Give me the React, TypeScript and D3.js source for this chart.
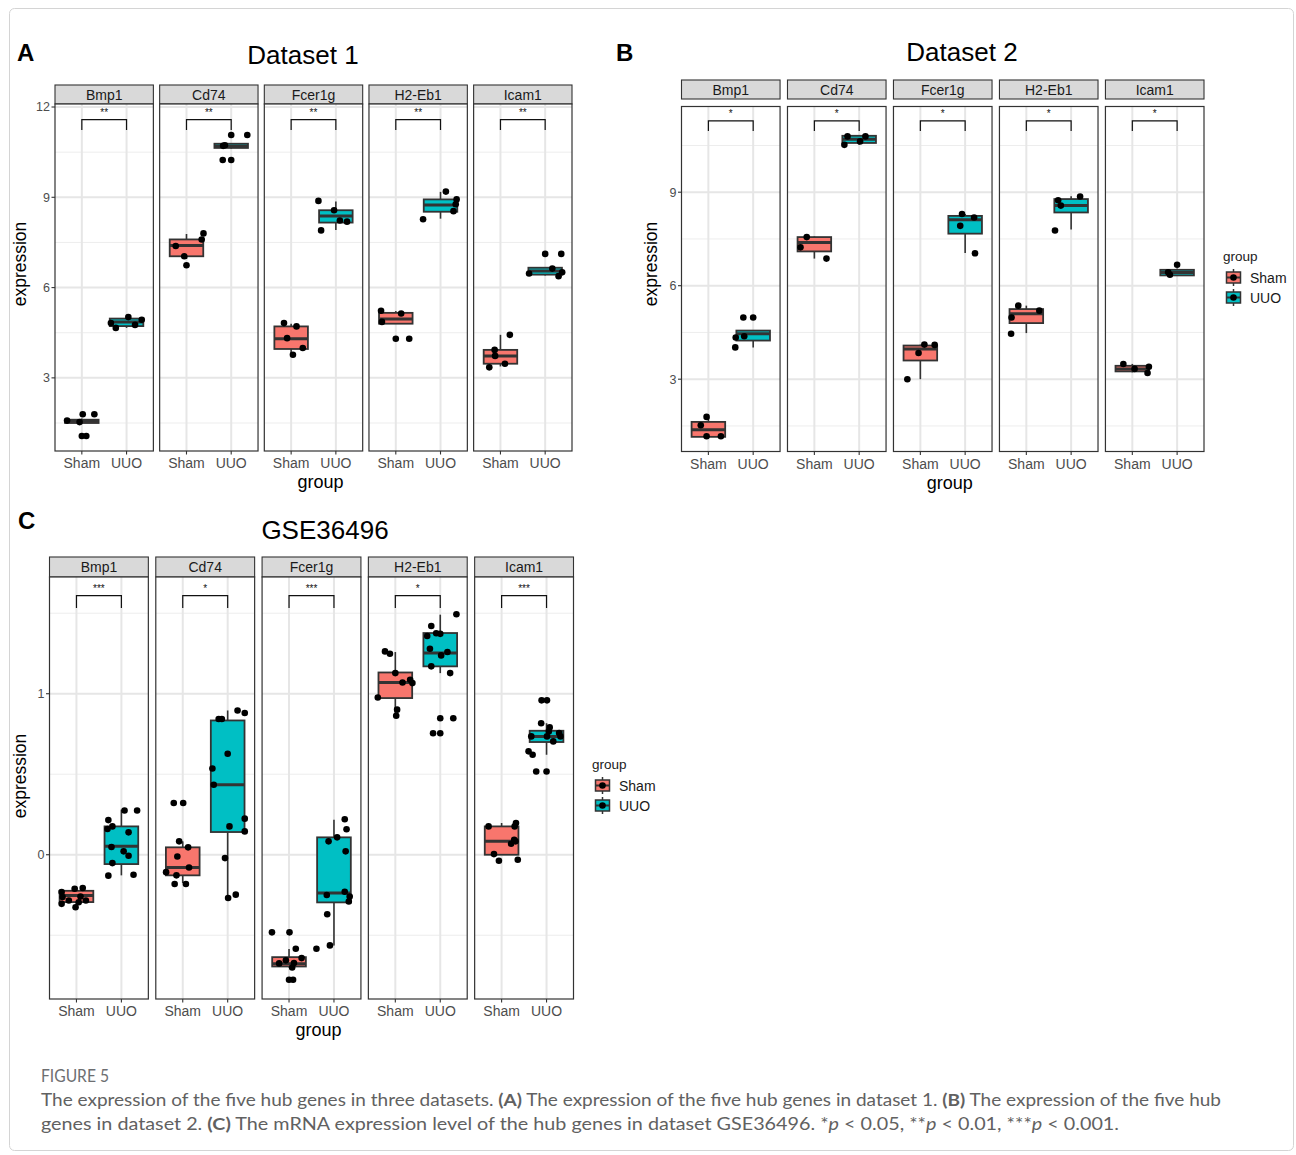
import React, { useEffect, useRef } from 'react';
import * as d3 from 'd3';

const genes = ['Bmp1', 'Cd74', 'Fcer1g', 'H2-Eb1', 'Icam1'];
const groups = ['Sham', 'UUO'];
const groupColors = ['#F8766D', '#00BFC4'];

// box stats per gene: [lower whisker, q1, median, q3, upper whisker]
const boxA_Sham = [[1.48, 1.50, 1.56, 1.61, 1.65], [6.95, 7.04, 7.40, 7.60, 7.78], [3.77, 3.96, 4.30, 4.71, 4.80], [4.80, 4.80, 4.96, 5.16, 5.22], [3.38, 3.47, 3.73, 3.93, 4.43]];
const boxA_UUO = [[4.66, 4.72, 4.86, 4.97, 5.02], [10.62, 10.64, 10.70, 10.78, 10.80], [7.91, 8.16, 8.38, 8.57, 8.86], [8.29, 8.52, 8.74, 8.93, 9.18], [6.40, 6.43, 6.55, 6.66, 6.68]];
// jittered points per gene: [jitter (x units), expression]
const ptsA_Sham = [
  [[-0.33, 1.58], [-0.05, 1.53], [0.02, 1.79], [0.28, 1.79], [0.0, 1.07], [0.1, 1.07]],
  [[-0.24, 7.38], [-0.05, 7.04], [0.0, 6.74], [0.34, 7.60], [0.38, 7.80]],
  [[-0.16, 4.82], [0.12, 4.71], [-0.09, 4.32], [0.26, 3.99], [0.04, 3.77]],
  [[-0.33, 5.23], [-0.31, 4.86], [0.12, 5.14], [0.0, 4.30], [0.3, 4.30]],
  [[0.21, 4.43], [-0.13, 3.93], [-0.12, 3.73], [0.1, 3.47], [-0.25, 3.35]],
];
const ptsA_UUO = [
  [[-0.35, 4.82], [-0.24, 4.66], [0.04, 5.02], [0.19, 4.76], [0.34, 4.93]],
  [[-0.18, 10.71], [-0.14, 10.73], [0.0, 11.07], [0.36, 11.07], [-0.19, 10.24], [0.0, 10.24]],
  [[-0.39, 8.88], [-0.04, 8.57], [0.09, 8.23], [0.25, 8.19], [-0.33, 7.90]],
  [[0.12, 9.19], [0.36, 8.93], [0.34, 8.77], [0.29, 8.54], [-0.39, 8.27]],
  [[0.0, 7.12], [0.36, 7.12], [0.16, 6.63], [-0.36, 6.47], [0.3, 6.38], [0.38, 6.51]],
];
const sigA = ['**', '**', '**', '**', '**'];
const bracketA = [11.58, 11.24];
const yDomainA = [0.57, 12.1];
const ticksA = [3, 6, 9, 12];
const minorA = [1.5, 4.5, 7.5, 10.5];

const boxB_Sham = [[1.15, 1.15, 1.38, 1.63, 1.79], [6.87, 7.10, 7.39, 7.56, 7.58], [3.0, 3.60, 3.97, 4.08, 4.11], [4.48, 4.80, 5.10, 5.25, 5.36], [3.22, 3.25, 3.33, 3.43, 3.49]];
const boxB_UUO = [[4.02, 4.24, 4.46, 4.56, 4.58], [10.52, 10.58, 10.70, 10.81, 10.82], [7.05, 7.67, 8.12, 8.24, 8.30], [7.80, 8.35, 8.57, 8.78, 8.87], [6.33, 6.33, 6.42, 6.51, 6.55]];
const ptsB_Sham = [
  [[-0.04, 1.79], [-0.17, 1.52], [-0.04, 1.17], [0.28, 1.17]],
  [[-0.17, 7.56], [-0.31, 7.23], [0.27, 6.87]],
  [[0.09, 4.11], [0.32, 4.10], [-0.04, 3.84], [-0.29, 3.0]],
  [[-0.18, 5.36], [-0.33, 4.98], [0.29, 5.20], [-0.34, 4.46]],
  [[-0.2, 3.49], [0.05, 3.33], [0.37, 3.40], [0.34, 3.20]],
];
const ptsB_UUO = [
  [[-0.22, 4.98], [0.0, 4.98], [-0.39, 4.34], [-0.2, 4.38], [-0.4, 4.02]],
  [[-0.26, 10.79], [-0.33, 10.52], [0.02, 10.63], [0.14, 10.79]],
  [[-0.07, 8.30], [0.2, 8.19], [-0.11, 7.92], [0.22, 7.04]],
  [[-0.29, 8.74], [-0.23, 8.57], [0.2, 8.86], [-0.36, 7.77]],
  [[0.0, 6.67], [-0.16, 6.35], [-0.2, 6.43]],
];
const sigB = ['*', '*', '*', '*', '*'];
const bracketB = [11.29, 10.96];
const yDomainB = [0.68, 11.75];
const ticksB = [3, 6, 9];
const minorB = [1.5, 4.5, 7.5, 10.5];

const boxC_Sham = [[-0.32, -0.294, -0.253, -0.224, -0.197], [-0.176, -0.128, -0.079, 0.046, 0.083], [-0.70, -0.694, -0.677, -0.636, -0.586], [0.859, 0.973, 1.07, 1.132, 1.259], [0.0, 0.0, 0.083, 0.176, 0.197]];
const boxC_UUO = [[-0.128, -0.058, 0.052, 0.176, 0.28], [-0.269, 0.141, 0.435, 0.834, 0.896], [-0.563, -0.296, -0.238, 0.108, 0.217], [1.128, 1.17, 1.253, 1.377, 1.491], [0.621, 0.70, 0.735, 0.770, 0.817]];
const ptsC_Sham = [
  [[-0.33, -0.232], [-0.31, -0.263], [-0.33, -0.305], [-0.17, -0.284], [-0.04, -0.211], [0.14, -0.207], [-0.02, -0.326], [0.05, -0.295], [0.21, -0.284], [0.09, -0.26]],
  [[-0.2, 0.321], [0.01, 0.321], [-0.08, 0.083], [0.12, 0.046], [-0.12, -0.011], [0.14, -0.079], [-0.37, -0.108], [-0.14, -0.128], [-0.18, -0.182], [0.07, -0.182]],
  [[-0.38, -0.482], [0.01, -0.482], [0.15, -0.584], [-0.07, -0.656], [0.11, -0.673], [0.28, -0.642], [0.07, -0.70], [0.0, -0.776], [0.09, -0.776], [-0.22, -0.675]],
  [[-0.23, 1.263], [-0.12, 1.248], [0.0, 1.128], [0.16, 1.07], [0.33, 1.087], [0.38, 1.066], [-0.39, 0.977], [0.04, 0.901], [0.02, 0.863]],
  [[-0.29, 0.176], [0.32, 0.197], [0.29, 0.176], [0.28, 0.093], [0.21, 0.068], [-0.17, 0.004], [-0.06, -0.037], [0.36, -0.031], [0.31, 0.083]],
];
const ptsC_UUO = [
  [[0.07, 0.275], [0.35, 0.275], [-0.29, 0.215], [-0.2, 0.176], [0.16, 0.139], [-0.22, 0.048], [0.05, 0.021], [0.16, -0.006], [-0.2, -0.052], [-0.29, -0.13], [0.27, -0.124], [-0.31, 0.16]],
  [[-0.2, 0.843], [-0.13, 0.843], [0.22, 0.896], [0.38, 0.88], [0.0, 0.627], [-0.34, 0.536], [-0.31, 0.435], [0.38, 0.224], [0.04, 0.176], [0.38, 0.145], [-0.06, -0.021], [0.01, -0.269], [0.18, -0.248]],
  [[0.24, 0.22], [0.28, 0.158], [0.07, 0.108], [-0.12, 0.083], [0.26, 0.021], [-0.16, -0.25], [0.24, -0.23], [0.35, -0.26], [0.33, -0.29], [-0.15, -0.37], [-0.09, -0.563], [-0.39, -0.584]],
  [[0.36, 1.494], [-0.2, 1.421], [-0.29, 1.359], [-0.09, 1.376], [0.0, 1.372], [-0.23, 1.279], [0.02, 1.238], [0.16, 1.259], [-0.2, 1.17], [0.22, 1.128], [0.0, 0.848], [0.29, 0.848], [-0.16, 0.755], [0.0, 0.755]],
  [[-0.11, 0.959], [0.01, 0.959], [-0.12, 0.817], [0.07, 0.791], [0.05, 0.766], [0.28, 0.756], [-0.34, 0.735], [0.01, 0.735], [0.31, 0.735], [0.15, 0.704], [-0.4, 0.642], [-0.31, 0.621], [-0.23, 0.517], [0.0, 0.517]],
];
const sigC = ['***', '*', '***', '*', '***'];
const bracketC = [1.609, 1.532];
const yDomainC = [-0.896, 1.725];
const ticksC = [0, 1];
const minorC = [-0.5, 0.5, 1.5];

const FONT = '"Liberation Sans", Arial, sans-serif';

const App = () => {
  const svgRef = useRef(null);

  useEffect(() => {
    document.body.style.margin = '0';
    const svg = d3.select(svgRef.current);
    svg.selectAll('*').remove();
    svg.style('font-family', FONT);

    svg.append('rect').attr('width', 1296).attr('height', 1155).attr('fill', '#fff');
    svg.append('rect')
      .attr('x', 9.5).attr('y', 8.5).attr('width', 1284).attr('height', 1142)
      .attr('rx', 5).attr('fill', 'none').attr('stroke', '#d4d4d4');

    const panels = [
      {
        label: 'A', labelX: 17, labelY: 61, title: 'Dataset 1', titleX: 303, titleY: 64,
        x0: 55, x1: 572, pad: 0.06, stripTop: 85, stripH: 19, top: 104, bottom: 451,
        yDomain: yDomainA, ticks: ticksA, minor: minorA, sham: [boxA_Sham, ptsA_Sham], uuo: [boxA_UUO, ptsA_UUO],
        sig: sigA, bracket: bracketA, ytitleX: 26, ytitleY: 264,
      },
      {
        label: 'B', labelX: 616, labelY: 61, title: 'Dataset 2', titleX: 962, titleY: 61,
        x0: 681.5, x1: 1204, pad: 0.07, stripTop: 80, stripH: 19, top: 106.5, bottom: 451.5,
        yDomain: yDomainB, ticks: ticksB, minor: minorB, sham: [boxB_Sham, ptsB_Sham], uuo: [boxB_UUO, ptsB_UUO],
        sig: sigB, bracket: bracketB, ytitleX: 657, ytitleY: 264,
      },
      {
        label: 'C', labelX: 18, labelY: 529, title: 'GSE36496', titleX: 325, titleY: 539,
        x0: 49.5, x1: 573.5, pad: 0.07, stripTop: 557, stripH: 20, top: 577, bottom: 999,
        yDomain: yDomainC, ticks: ticksC, minor: minorC, sham: [boxC_Sham, ptsC_Sham], uuo: [boxC_UUO, ptsC_UUO],
        sig: sigC, bracket: bracketC, ytitleX: 26, ytitleY: 776,
      },
    ];

    panels.forEach(p => {
      const g = svg.append('g');
      g.append('text').attr('x', p.labelX).attr('y', p.labelY)
        .style('font-size', '24px').style('font-weight', 'bold').attr('fill', '#000').text(p.label);
      g.append('text').attr('x', p.titleX).attr('y', p.titleY).attr('text-anchor', 'middle')
        .style('font-size', '26px').attr('fill', '#000').text(p.title);

      const fx = d3.scaleBand().domain(genes).range([p.x0, p.x1]).paddingInner(p.pad);
      const y = d3.scaleLinear().domain(p.yDomain).range([p.bottom, p.top]);
      const bw = fx.bandwidth();

      genes.forEach((gene, gi) => {
        const left = fx(gene);
        const x = d3.scaleLinear().domain([0.4, 2.6]).range([left, left + bw]);
        const fg = g.append('g');

        // strip
        fg.append('rect').attr('x', left).attr('y', p.stripTop).attr('width', bw).attr('height', p.stripH)
          .attr('fill', '#d9d9d9').attr('stroke', '#333').attr('stroke-width', 1.1);
        fg.append('text').attr('x', left + bw / 2).attr('y', p.stripTop + p.stripH / 2).attr('dy', '0.36em')
          .attr('text-anchor', 'middle').style('font-size', '14px').attr('fill', '#1a1a1a').text(gene);

        // panel background and grid
        fg.append('rect').attr('x', left).attr('y', p.top).attr('width', bw).attr('height', p.bottom - p.top).attr('fill', '#fff');
        p.minor.forEach(v => {
          fg.append('line').attr('x1', left).attr('x2', left + bw).attr('y1', y(v)).attr('y2', y(v))
            .attr('stroke', '#ededed').attr('stroke-width', 1);
        });
        p.ticks.forEach(v => {
          fg.append('line').attr('x1', left).attr('x2', left + bw).attr('y1', y(v)).attr('y2', y(v))
            .attr('stroke', '#e6e6e6').attr('stroke-width', 2);
        });
        [1, 2].forEach(k => {
          fg.append('line').attr('x1', x(k)).attr('x2', x(k)).attr('y1', p.top).attr('y2', p.bottom)
            .attr('stroke', '#e6e6e6').attr('stroke-width', 2);
        });

        // boxes
        [p.sham, p.uuo].forEach(([boxes], k) => {
          const [lo, q1, med, q3, hi] = boxes[gi];
          const cx = x(k + 1);
          const hw = x(k + 1.375) - cx;
          fg.append('line').attr('x1', cx).attr('x2', cx).attr('y1', y(hi)).attr('y2', y(q3))
            .attr('stroke', '#333').attr('stroke-width', 1.6);
          fg.append('line').attr('x1', cx).attr('x2', cx).attr('y1', y(q1)).attr('y2', y(lo))
            .attr('stroke', '#333').attr('stroke-width', 1.6);
          fg.append('rect').attr('x', cx - hw).attr('y', y(q3)).attr('width', hw * 2)
            .attr('height', Math.max(0.5, y(q1) - y(q3)))
            .attr('fill', groupColors[k]).attr('stroke', '#333').attr('stroke-width', 1.8);
          fg.append('line').attr('x1', cx - hw).attr('x2', cx + hw).attr('y1', y(med)).attr('y2', y(med))
            .attr('stroke', '#333').attr('stroke-width', 3);
        });
        [p.sham, p.uuo].forEach(([, pts], k) => {
          fg.selectAll(null).data(pts[gi]).enter().append('circle')
            .attr('cx', d => x(k + 1 + d[0])).attr('cy', d => y(d[1])).attr('r', 3.3).attr('fill', '#000');
        });

        // significance bracket
        const [bt, tip] = p.bracket;
        fg.append('path')
          .attr('d', `M${x(1)},${y(tip)}V${y(bt)}H${x(2)}V${y(tip)}`)
          .attr('fill', 'none').attr('stroke', '#111').attr('stroke-width', 1.2);
        fg.append('text').attr('x', x(1.5)).attr('y', y(bt) - 3.5).attr('text-anchor', 'middle')
          .style('font-size', '10px').attr('fill', '#111').text(p.sig[gi]);

        // border
        fg.append('rect').attr('x', left).attr('y', p.top).attr('width', bw).attr('height', p.bottom - p.top)
          .attr('fill', 'none').attr('stroke', '#333').attr('stroke-width', 1.2);

        // x axis
        groups.forEach((grp, k) => {
          fg.append('line').attr('x1', x(k + 1)).attr('x2', x(k + 1)).attr('y1', p.bottom).attr('y2', p.bottom + 3.5)
            .attr('stroke', '#333').attr('stroke-width', 1.1);
          fg.append('text').attr('x', x(k + 1)).attr('y', p.bottom + 17).attr('text-anchor', 'middle')
            .style('font-size', '14px').attr('fill', '#4d4d4d').text(grp);
        });
      });

      // y axis on the first facet
      p.ticks.forEach(v => {
        g.append('line').attr('x1', p.x0 - 3.5).attr('x2', p.x0).attr('y1', y(v)).attr('y2', y(v))
          .attr('stroke', '#333').attr('stroke-width', 1.1);
        g.append('text').attr('x', p.x0 - 5).attr('y', y(v)).attr('dy', '0.35em').attr('text-anchor', 'end')
          .style('font-size', '12.5px').attr('fill', '#4d4d4d').text(v);
      });
      g.append('text').attr('transform', `translate(${p.ytitleX},${p.ytitleY}) rotate(-90)`)
        .attr('text-anchor', 'middle').style('font-size', '17.5px').attr('fill', '#000').text('expression');
      g.append('text').attr('x', (p.x0 + p.x1) / 2 + 7).attr('y', p.bottom + 37).attr('text-anchor', 'middle')
        .style('font-size', '18px').attr('fill', '#000').text('group');
    });

    // legends
    const legendAt = (lx, ly) => {
      const lg = svg.append('g');
      lg.append('text').attr('x', lx).attr('y', ly).style('font-size', '13.5px').attr('fill', '#1a1a1a').text('group');
      groups.forEach((grp, i) => {
        const cy = ly + 16.5 + i * 20;
        const kx = lx + 2;
        lg.append('line').attr('x1', kx + 8.5).attr('x2', kx + 8.5).attr('y1', cy - 8.5).attr('y2', cy + 8.5)
          .attr('stroke', '#333').attr('stroke-width', 1.5);
        lg.append('rect').attr('x', kx + 1.5).attr('y', cy - 5.5).attr('width', 14).attr('height', 11)
          .attr('fill', groupColors[i]).attr('stroke', '#333').attr('stroke-width', 1.5);
        lg.append('line').attr('x1', kx + 1.5).attr('x2', kx + 15.5).attr('y1', cy).attr('y2', cy)
          .attr('stroke', '#333').attr('stroke-width', 2);
        lg.append('circle').attr('cx', kx + 8.5).attr('cy', cy).attr('r', 3.3).attr('fill', '#000');
        lg.append('text').attr('x', kx + 25).attr('y', cy).attr('dy', '0.36em')
          .style('font-size', '14px').attr('fill', '#1a1a1a').text(grp);
      });
    };
    legendAt(1223, 261);
    legendAt(592, 769);

    // caption
    const cap = svg.append('g').style('font-family', 'Lato, "Open Sans", sans-serif');
    cap.append('text').attr('x', 41).attr('y', 1082).style('font-size', '17px').attr('fill', '#6d6e71')
      .attr('textLength', 68).attr('lengthAdjust', 'spacingAndGlyphs').text('FIGURE 5');
    const line1 = cap.append('text').attr('x', 41).attr('y', 1106).style('font-size', '17px').attr('fill', '#616161')
      .attr('textLength', 1180).attr('lengthAdjust', 'spacingAndGlyphs');
    line1.append('tspan').text('The expression of the five hub genes in three datasets. ');
    line1.append('tspan').style('font-weight', 'bold').text('(A)');
    line1.append('tspan').text(' The expression of the five hub genes in dataset 1. ');
    line1.append('tspan').style('font-weight', 'bold').text('(B)');
    line1.append('tspan').text(' The expression of the five hub');
    const line2 = cap.append('text').attr('x', 41).attr('y', 1130).style('font-size', '17px').attr('fill', '#616161')
      .attr('textLength', 1078).attr('lengthAdjust', 'spacingAndGlyphs');
    line2.append('tspan').text('genes in dataset 2. ');
    line2.append('tspan').style('font-weight', 'bold').text('(C)');
    line2.append('tspan').text(' The mRNA expression level of the hub genes in dataset GSE36496. *');
    line2.append('tspan').style('font-style', 'italic').text('p');
    line2.append('tspan').text(' < 0.05, **');
    line2.append('tspan').style('font-style', 'italic').text('p');
    line2.append('tspan').text(' < 0.01, ***');
    line2.append('tspan').style('font-style', 'italic').text('p');
    line2.append('tspan').text(' < 0.001.');
  }, []);

  return (
    <div>
      <svg ref={svgRef} width={1296} height={1155} style={{ display: 'block' }}></svg>
    </div>
  );
};

export default App;
